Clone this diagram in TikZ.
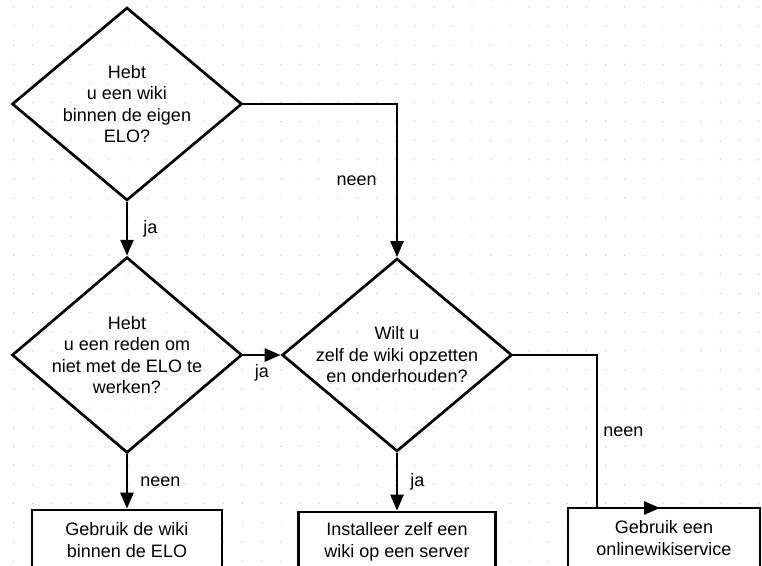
\documentclass[tikz,border=0pt]{standalone}
\usepackage{fontspec}
\setmainfont{Liberation Sans}
\usetikzlibrary{shapes.geometric, arrows.meta, positioning}

\begin{document}
\begin{tikzpicture}[x=1pt, y=-1pt,
    every node/.style={font=\fontsize{18}{21.5}\selectfont},
    decision/.style={draw, diamond, line width=2.7pt, inner sep=-8pt, minimum width=230pt, minimum height=193pt, align=center},
    outcome/.style={draw, rectangle, fill=white, line width=2.7pt, minimum height=60pt, inner sep=0pt, align=center},
    flow/.style={line width=2.7pt, -{Triangle[length=16pt, width=13pt]}},
    answer/.style={inner sep=2pt}]
    \useasboundingbox (0, 0) rectangle (762, 565);
    % raster
    \foreach \i in {0,...,39}
        \foreach \j in {0,...,29}
            \fill[black!28] (13.5+19.1*\i, 7+19.1*\j) circle (0.6pt);

    \node[decision] (q1) at (127, 104) {Hebt\\u een wiki\\binnen de eigen\\ELO?};
    \node[decision] (q2) at (127, 355) {Hebt\\u een reden om\\niet met de ELO te\\werken?};
    \node[decision] (q3) at (397, 355) {Wilt u\\zelf de wiki opzetten\\en onderhouden?};

    \node[outcome, minimum width=190pt] (b1) at (127, 540) {Gebruik de wiki\\binnen de ELO};
    \node[outcome, minimum width=197pt] (b2) at (397, 542) {Installeer zelf een\\wiki op een server};
    \node[outcome, minimum width=192pt] (b3) at (664, 538) {Gebruik een\\onlinewikiservice};

    \coordinate (bend) at (597, 508);
    \coordinate (b3in) at (660, 508);

    \draw[flow] (q1.south) -- node[answer, right=13pt] {ja} (q2.north);
    \draw[flow] (q1.east) -| node[answer, left=17pt, pos=0.75] {neen} (q3.north);
    \draw[flow] (q2.east) -- node[answer, below=6pt] {ja} (q3.west);
    \draw[flow] (q2.south) -- node[answer, right=10pt] {neen} (b1.north);
    \draw[flow] (q3.south) -- node[answer, right=10pt] {ja} (b2.north);
    \draw[flow] (q3.east) -| node[answer, right=3pt, pos=0.75] {neen} (bend) -- (b3in);
\end{tikzpicture}
\end{document}
